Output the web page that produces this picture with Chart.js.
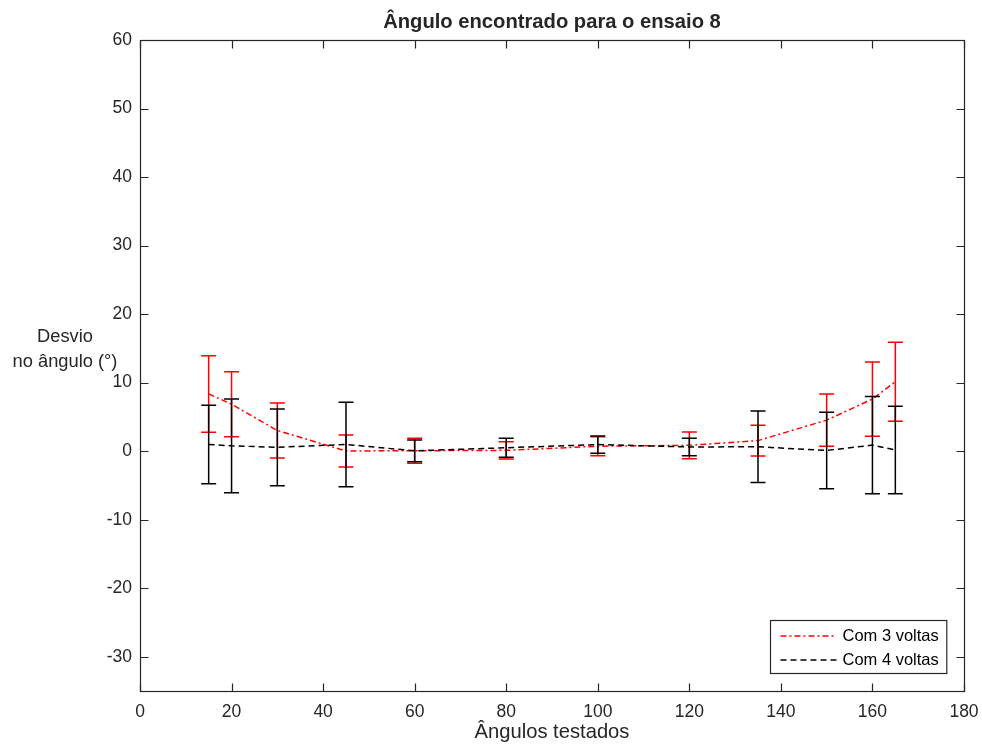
<!DOCTYPE html>
<html>
<head>
<meta charset="utf-8">
<script src="https://cdn.jsdelivr.net/npm/chart.js@4/dist/chart.umd.min.js"></script>
<style>
  html, body { margin: 0; padding: 0; background: #fff; }
  canvas { display: block; }
</style>
</head>
<body>
<canvas id="chart" width="982" height="749"></canvas>
<script>
// Tested angles (degrees)
const angles = [15, 20, 30, 45, 60, 80, 100, 120, 135, 150, 160, 165];

// "Com 3 voltas": mean deviation and error half-width
const mean3 = [8.35, 6.86, 3.02, 0.03, 0.06, 0.12, 0.72, 0.85, 1.54, 4.53, 7.60, 10.13];
const err3  = [5.59, 4.74, 4.01, 2.33, 1.83, 1.26, 1.38, 1.95, 2.24, 3.82, 5.42, 5.77];

// "Com 4 voltas": mean deviation and error half-width
const mean4 = [0.98, 0.78, 0.56, 0.98, 0.05, 0.50, 0.96, 0.61, 0.64, 0.10, 0.88, 0.18];
const err4  = [5.72, 6.84, 5.60, 6.16, 1.58, 1.39, 1.27, 1.27, 5.23, 5.58, 7.08, 6.38];

// Axis tick values
const xTicks = [0, 20, 40, 60, 80, 100, 120, 140, 160, 180];
const yTicks = [-30, -20, -10, 0, 10, 20, 30, 40, 50, 60];

const FONT = '"Liberation Sans", Arial, Helvetica, sans-serif';
const AXIS_COLOR = '#262626';
const TITLE = 'Ângulo encontrado para o ensaio 8';
const Y_LABEL = ['Desvio', 'no ângulo (°)'];

function points(xs, ys) {
  return xs.map((x, i) => ({ x: x, y: ys[i] }));
}

// Vertical error bars with caps, drawn right after each dataset's line
const errorBarPlugin = {
  id: 'errorBars',
  afterDatasetDraw(chart, args) {
    const ds = chart.data.datasets[args.index];
    if (!ds.errorBars) return;
    const xs = chart.scales.x, ys = chart.scales.y;
    const ctx = chart.ctx;
    const cap = 7.5;
    ctx.save();
    ctx.strokeStyle = ds.borderColor;
    ctx.lineWidth = 1.5;
    ctx.setLineDash([]);
    ds.data.forEach((p, i) => {
      const e = ds.errorBars[i];
      const px = xs.getPixelForValue(p.x);
      const top = ys.getPixelForValue(p.y + e);
      const bot = ys.getPixelForValue(p.y - e);
      ctx.beginPath();
      ctx.moveTo(px, top); ctx.lineTo(px, bot);
      ctx.moveTo(px - cap, top); ctx.lineTo(px + cap, top);
      ctx.moveTo(px - cap, bot); ctx.lineTo(px + cap, bot);
      ctx.stroke();
    });
    ctx.restore();
  }
};

// Box around the plot area, inward tick marks, title, y label and legend
const framePlugin = {
  id: 'frame',
  afterDraw(chart) {
    const ctx = chart.ctx;
    const a = chart.chartArea;
    const xs = chart.scales.x, ys = chart.scales.y;
    const tl = 8;
    ctx.save();
    ctx.strokeStyle = AXIS_COLOR;
    ctx.lineWidth = 1.2;
    ctx.setLineDash([]);
    const L = Math.round(a.left) + 0.5, R = Math.round(a.right) + 0.5;
    const T = Math.round(a.top) + 0.5, B = Math.round(a.bottom) + 0.5;
    ctx.strokeRect(L, T, R - L, B - T);
    ctx.beginPath();
    xs.ticks.forEach(t => {
      const px = Math.round(xs.getPixelForValue(t.value)) + 0.5;
      ctx.moveTo(px, B); ctx.lineTo(px, B - tl);
      ctx.moveTo(px, T); ctx.lineTo(px, T + tl);
    });
    ys.ticks.forEach(t => {
      const py = Math.round(ys.getPixelForValue(t.value)) + 0.5;
      ctx.moveTo(L, py); ctx.lineTo(L + tl, py);
      ctx.moveTo(R, py); ctx.lineTo(R - tl, py);
    });
    ctx.stroke();

    // Title centred over the plot area
    ctx.fillStyle = AXIS_COLOR;
    ctx.font = 'bold 20.2px ' + FONT;
    ctx.textAlign = 'center';
    ctx.textBaseline = 'middle';
    ctx.fillText(TITLE, (a.left + a.right) / 2, 22);

    // Horizontal two-line y-axis label
    ctx.font = '18.3px ' + FONT;
    ctx.fillText(Y_LABEL[0], 65, 337);
    ctx.fillText(Y_LABEL[1], 65, 362);

    // Legend in the lower right corner of the plot area
    const dsets = chart.data.datasets;
    ctx.font = '16.5px ' + FONT;
    const textW = Math.max(...dsets.map(d => ctx.measureText(d.label).width));
    const lineLen = 56, pad = 10, gap = 6, rowH = 24;
    const boxW = pad + lineLen + gap + textW + 8;
    const boxH = rowH * dsets.length + 5;
    const bx = Math.round(a.right - 18 - boxW) + 0.5;
    const by = Math.round(a.bottom - 18 - boxH) + 0.5;
    ctx.fillStyle = '#fff';
    ctx.fillRect(bx, by, boxW, boxH);
    ctx.strokeStyle = AXIS_COLOR;
    ctx.lineWidth = 1.2;
    ctx.strokeRect(bx, by, boxW, boxH);
    dsets.forEach((d, i) => {
      const cy = by + 15.5 + i * rowH;
      ctx.strokeStyle = d.borderColor;
      ctx.lineWidth = d.borderWidth;
      ctx.setLineDash(d.borderDash || []);
      ctx.beginPath();
      ctx.moveTo(bx + pad, cy); ctx.lineTo(bx + pad + lineLen, cy);
      ctx.stroke();
      ctx.setLineDash([]);
      ctx.fillStyle = '#000';
      ctx.textAlign = 'left';
      ctx.textBaseline = 'middle';
      ctx.fillText(d.label, bx + pad + lineLen + gap, cy);
    });
    ctx.restore();
  }
};

new Chart(document.getElementById('chart'), {
  type: 'line',
  data: {
    datasets: [
      {
        label: 'Com 3 voltas',
        data: points(angles, mean3),
        errorBars: err3,
        borderColor: '#ff0000',
        borderWidth: 1.5,
        borderDash: [6, 3, 2, 3],
        pointRadius: 0,
        tension: 0,
        fill: false,
        order: 2
      },
      {
        label: 'Com 4 voltas',
        data: points(angles, mean4),
        errorBars: err4,
        borderColor: '#000000',
        borderWidth: 1.5,
        borderDash: [6, 4],
        pointRadius: 0,
        tension: 0,
        fill: false,
        order: 1
      }
    ]
  },
  options: {
    responsive: false,
    devicePixelRatio: 1,
    animation: false,
    layout: { padding: { left: 0, right: 18, top: 40, bottom: 0 } },
    plugins: {
      legend: { display: false },
      tooltip: { enabled: false },
      title: { display: false }
    },
    scales: {
      x: {
        type: 'linear',
        min: 0,
        max: 180,
        afterBuildTicks: s => { s.ticks = xTicks.map(v => ({ value: v })); },
        afterFit: s => { s.height = 58; s.paddingLeft = 0; s.paddingRight = 0; },
        grid: { display: false, drawTicks: false },
        border: { display: false },
        ticks: { color: AXIS_COLOR, padding: 11, font: { family: FONT, size: 17.5 }, maxRotation: 0 },
        title: {
          display: true,
          text: 'Ângulos testados',
          color: AXIS_COLOR,
          font: { family: FONT, size: 20.2, lineHeight: 1.2 }
        }
      },
      y: {
        type: 'linear',
        min: -35,
        max: 60,
        afterBuildTicks: s => { s.ticks = yTicks.map(v => ({ value: v })); },
        afterFit: s => { s.width = 140; s.paddingTop = 0; s.paddingBottom = 0; },
        grid: { display: false, drawTicks: false },
        border: { display: false },
        ticks: { color: AXIS_COLOR, padding: 8, font: { family: FONT, size: 17.5 } }
      }
    }
  },
  plugins: [errorBarPlugin, framePlugin]
});
</script>
</body>
</html>
